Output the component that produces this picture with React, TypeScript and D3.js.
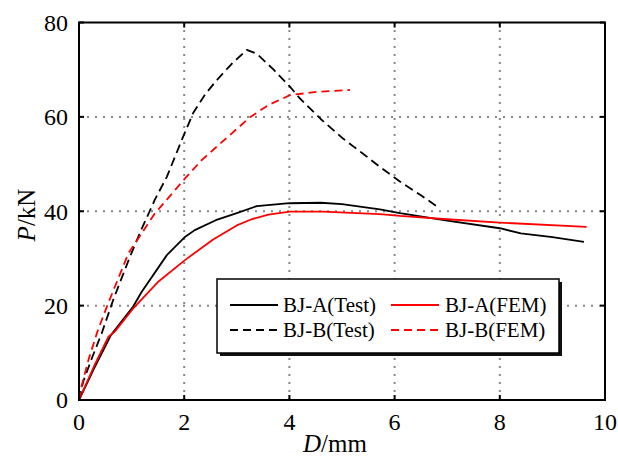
import React from "react";
import * as d3 from "d3";

const xTicks = [0, 2, 4, 6, 8, 10];
const yTicks = [0, 20, 40, 60, 80];

const aTestD = [0, 0.3, 0.61, 1.03, 1.19, 1.67, 2.02, 2.2, 2.6, 3.0, 3.38, 4.0, 4.6, 5.0, 5.72, 6.1, 7.0, 8.0, 8.4, 9.0, 9.6];
const aTestP = [0, 7, 13.8, 19.8, 22.9, 30.7, 34.6, 36.0, 38.1, 39.6, 41.1, 41.7, 41.8, 41.5, 40.4, 39.6, 38.0, 36.4, 35.3, 34.5, 33.5];

const aFemD = [0, 0.3, 0.56, 0.68, 1.03, 1.5, 2.02, 2.55, 3.0, 3.28, 3.6, 4.01, 4.64, 5.72, 6.1, 7.0, 8.0, 9.65];
const aFemP = [0, 7.5, 13.4, 14.5, 19.4, 25, 29.7, 34.0, 37.0, 38.3, 39.3, 39.9, 39.9, 39.4, 39.0, 38.3, 37.6, 36.7];

const bTestD = [0, 0.08, 0.25, 0.43, 0.65, 0.97, 1.2, 1.44, 1.67, 1.98, 2.17, 2.4, 2.62, 2.9, 3.19, 3.38, 3.7, 4.01, 4.2, 4.6, 5.02, 5.4, 5.72, 6.1, 6.5, 6.86];
const bTestP = [0, 3.9, 9, 14.1, 21.2, 30.4, 36.5, 42.4, 47.3, 55.8, 60.8, 64.8, 67.8, 71.2, 74.2, 73.4, 70, 66.4, 63.9, 59.5, 55.4, 52.2, 49.4, 46.3, 43.4, 40.6];

const bFemD = [0, 0.05, 0.18, 0.35, 0.53, 0.94, 1.44, 2.02, 2.33, 2.62, 3.25, 3.6, 4.01, 4.52, 5.15];
const bFemP = [0, 3, 8.5, 14.5, 19.8, 31.1, 39.5, 47.0, 50.8, 53.7, 59.9, 62.5, 64.6, 65.3, 65.7];

const seriesNames = ["BJ-A(Test)", "BJ-A(FEM)", "BJ-B(Test)", "BJ-B(FEM)"];

const FONT = "'Liberation Serif', 'Times New Roman', Times, 'DejaVu Serif', serif";

export default function App() {
  const W = 618, H = 458;
  const x0 = 79, x1 = 605, y0 = 400, y1 = 22.5;
  const x = d3.scaleLinear().domain([0, 10]).range([x0, x1]);
  const y = d3.scaleLinear().domain([0, 80]).range([y0, y1]);
  const line = d3.line<[number, number]>().x(d => x(d[0])).y(d => y(d[1]));
  const zip = (a: number[], b: number[]) => a.map((v, i) => [v, b[i]] as [number, number]);

  const series = [
    { name: seriesNames[0], data: zip(aTestD, aTestP), color: "#000", dash: undefined },
    { name: seriesNames[1], data: zip(aFemD, aFemP), color: "#ff0000", dash: undefined },
    { name: seriesNames[2], data: zip(bTestD, bTestP), color: "#000", dash: "9,5" },
    { name: seriesNames[3], data: zip(bFemD, bFemP), color: "#ff0000", dash: "8,5" },
  ];

  const tl = 5;
  const lg = { x: 217, y: 279, w: 342, h: 74 };
  const legendPos = [
    { lx: 230, tx: 283, ty: 305 },
    { lx: 391, tx: 445, ty: 305 },
    { lx: 230, tx: 283, ty: 330 },
    { lx: 391, tx: 445, ty: 330 },
  ];
  const ts = { fontFamily: FONT };

  return (
    <svg width={W} height={H} style={{ position: "absolute", left: 0, top: 0, background: "#fff", fontFamily: FONT }}>
      {/* grid */}
      {xTicks.slice(1, -1).map(t => (
        <line key={"gx" + t} x1={x(t)} x2={x(t)} y1={y0} y2={y1} stroke="#888" strokeWidth={2} strokeDasharray="2,6" />
      ))}
      {yTicks.slice(1, -1).map(t => (
        <line key={"gy" + t} x1={x0} x2={x1} y1={y(t)} y2={y(t)} stroke="#888" strokeWidth={2} strokeDasharray="2,6" />
      ))}
      {/* curves */}
      {series.map(s => (
        <path key={s.name} d={line(s.data) || ""} fill="none" stroke={s.color} strokeWidth={1.8} strokeDasharray={s.dash} strokeLinejoin="round" />
      ))}
      {/* frame */}
      <rect x={x0} y={y1} width={x1 - x0} height={y0 - y1} fill="none" stroke="#000" strokeWidth={2} />
      {/* ticks */}
      {xTicks.map(t => (
        <g key={"tx" + t}>
          <line x1={x(t)} x2={x(t)} y1={y0} y2={y0 - tl} stroke="#000" strokeWidth={2} />
          <line x1={x(t)} x2={x(t)} y1={y1} y2={y1 + tl} stroke="#000" strokeWidth={2} />
          <text style={ts} x={x(t)} y={430} textAnchor="middle" fontSize={24}>{t}</text>
        </g>
      ))}
      {yTicks.map(t => (
        <g key={"ty" + t}>
          <line x1={x0} x2={x0 + tl} y1={y(t)} y2={y(t)} stroke="#000" strokeWidth={2} />
          <line x1={x1} x2={x1 - tl} y1={y(t)} y2={y(t)} stroke="#000" strokeWidth={2} />
          <text style={ts} x={68} y={y(t)} dy="0.35em" textAnchor="end" fontSize={24}>{t}</text>
        </g>
      ))}
      {/* axis titles */}
      <text style={ts} x={335} y={452} textAnchor="middle" fontSize={25}>
        <tspan fontStyle="italic">D</tspan>/mm
      </text>
      <text style={ts} transform="translate(35,215) rotate(-90)" textAnchor="middle" fontSize={25}>
        <tspan fontStyle="italic">P</tspan>/kN
      </text>
      {/* legend */}
      <rect x={lg.x + 3} y={lg.y + 3} width={lg.w} height={lg.h} fill="#111" />
      <rect x={lg.x} y={lg.y} width={lg.w} height={lg.h} fill="#fff" stroke="#000" strokeWidth={1.5} />
      {series.map((s, i) => (
        <g key={"lg" + s.name}>
          <line x1={legendPos[i].lx} x2={legendPos[i].lx + 48} y1={legendPos[i].ty} y2={legendPos[i].ty} stroke={s.color} strokeWidth={1.8} strokeDasharray={s.dash ? "8,5" : undefined} />
          <text style={ts} x={legendPos[i].tx} y={legendPos[i].ty} dy="0.35em" fontSize={21}>{s.name}</text>
        </g>
      ))}
    </svg>
  );
}
